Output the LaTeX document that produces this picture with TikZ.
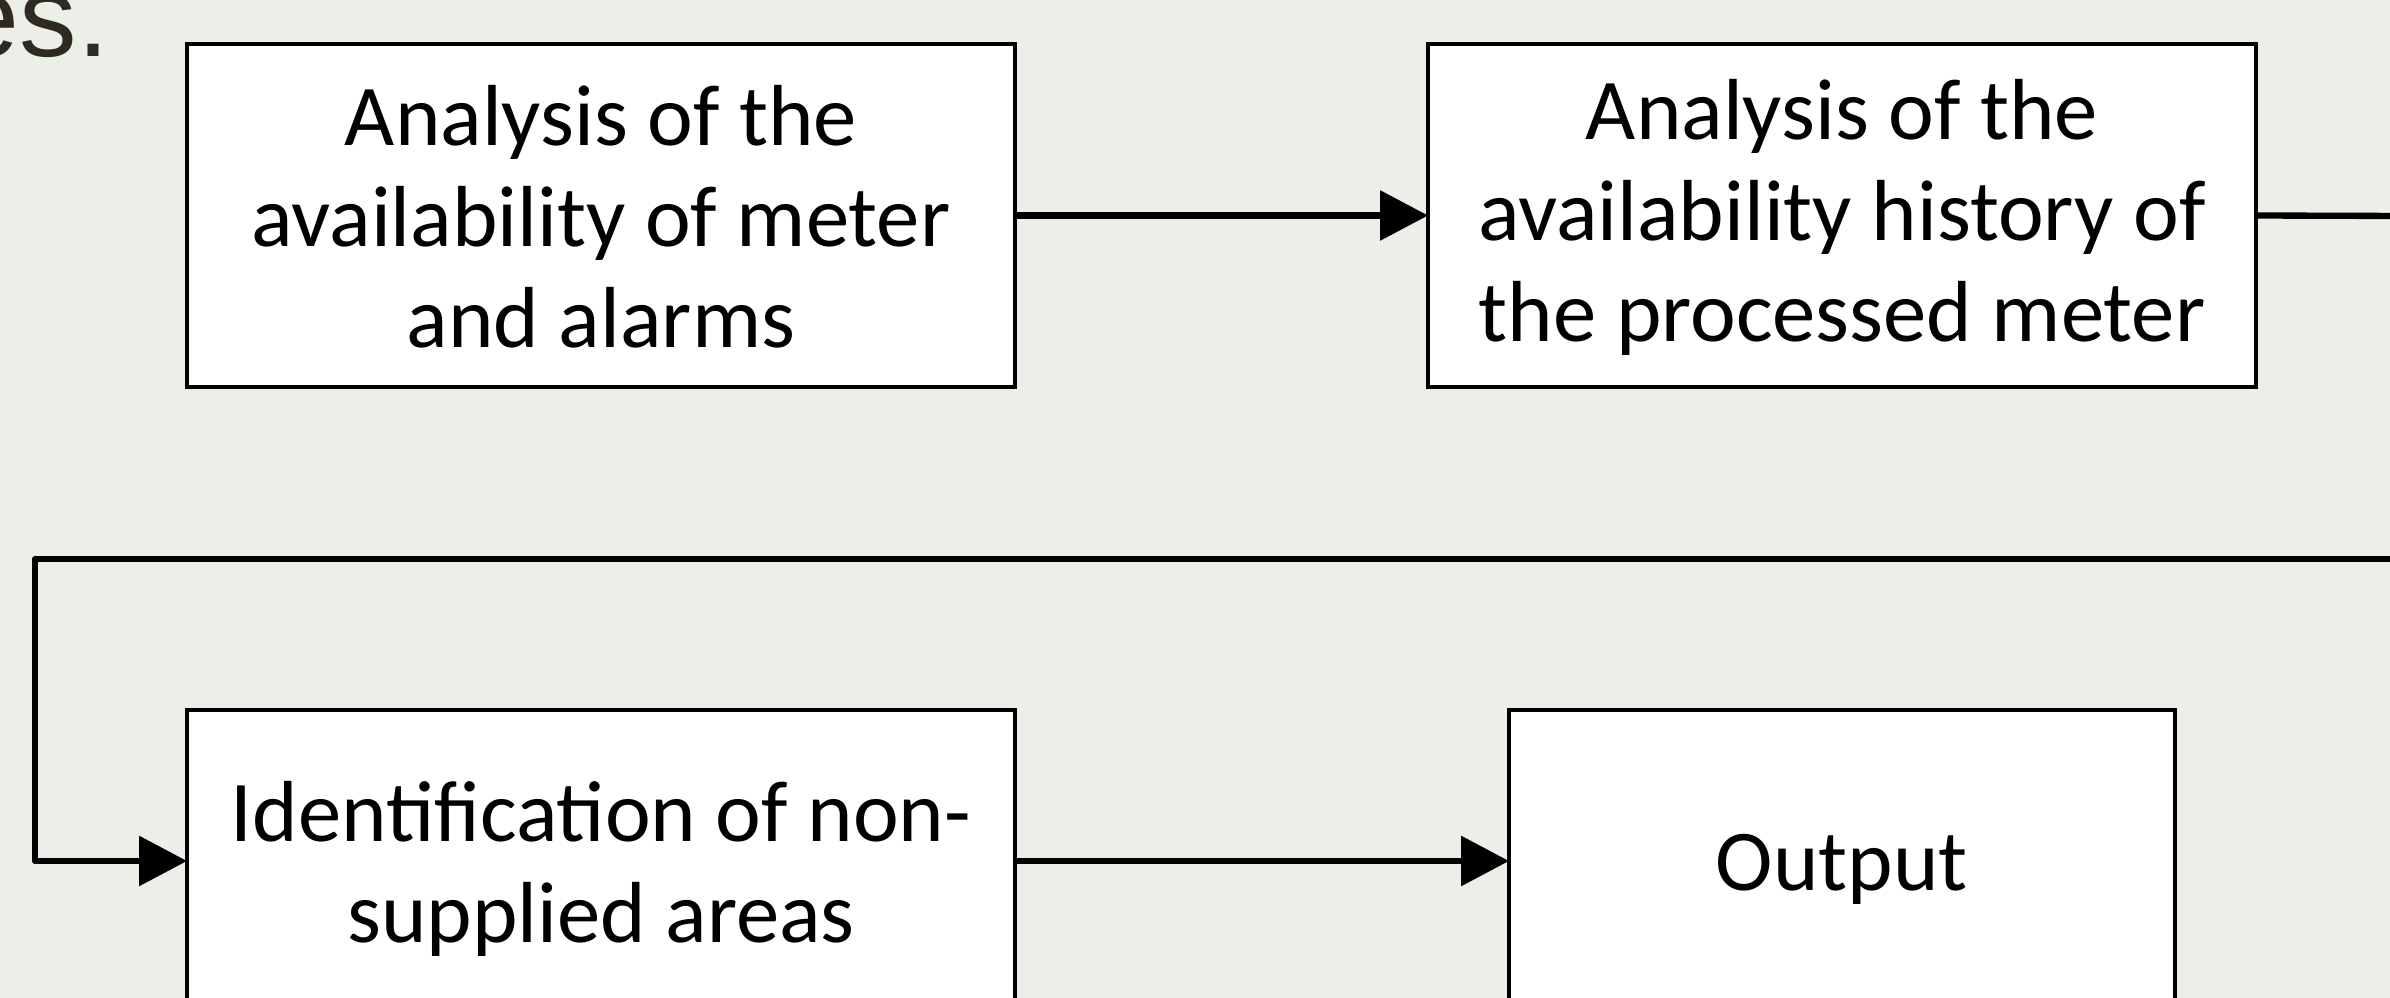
\documentclass[tikz,border=0pt]{standalone}
\usepackage{fontspec}
\setmainfont{Carlito}
\newfontfamily\headfont{Liberation Sans}
\usetikzlibrary{arrows.meta}
\definecolor{bgc}{RGB}{236,238,232}
\definecolor{headc}{RGB}{46,42,34}
\begin{document}
\begin{tikzpicture}[x=0.3pt,y=-0.3pt,
  stepbox/.style={draw=black, line width=1.3pt, fill=white, inner sep=0pt, outer sep=0pt},
  boxtext/.style={inner sep=0pt, align=center, font=\fontsize{26}{30.3}\selectfont},
  conn/.style={line width=1.9pt, line join=round, -{Triangle[length=14.4pt,width=14.7pt]}},
  plainconn/.style={line width=1.9pt, line join=round}]
\fill[bgc] (0,0) rectangle (2390,998);
\useasboundingbox (0,0) rectangle (2390,998);
\begin{scope}
\clip (0,0) rectangle (2390,998);
\node[anchor=base east, text=headc, inner sep=0pt, font=\headfont\fontsize{34.5}{40}\selectfont] (hd) at (110,57) {es.};
\node[stepbox, minimum width=248.4pt, minimum height=102.9pt] (b1) at (601,215.5) {};
\node[boxtext] (t1) at (601,217) {Analysis of the\\availability of meter\\and alarms};
\node[stepbox, minimum width=248.4pt, minimum height=102.9pt] (b2) at (1842,215.5) {};
\node[boxtext] (t2) at (1842,217) {Analysis of the\\availability history of\\the processed meter};
\node[stepbox, minimum width=248.4pt, minimum height=90.6pt] (b3) at (601,861) {};
\node[boxtext] (t3) at (601,869) {Identification of non-\\supplied areas};
\node[stepbox, minimum width=199.8pt, minimum height=90.6pt] (b4) at (1842,861) {};
\node[boxtext] (t4) at (1842,869) {Output};
\coordinate (outR1) at (2400,216);
\coordinate (outR2) at (2400,559);
\coordinate (cornerL) at (35,559);
\draw[conn] (b1.east) -- (b2.west);
\draw[plainconn] (b2.east) -- (outR1);
\draw[conn] (outR2) -- (cornerL) |- (b3.west);
\draw[conn] (b3.east) -- (b4.west);
\end{scope}
\end{tikzpicture}
\end{document}
